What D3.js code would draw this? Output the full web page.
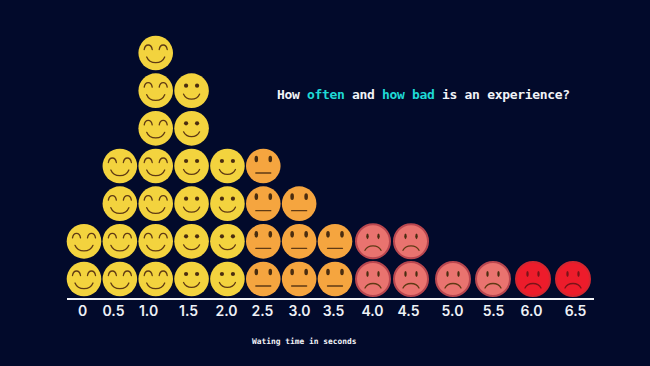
<!DOCTYPE html>
<html>
<head>
  <title>Waiting time</title>
  <script src="https://cdn.jsdelivr.net/npm/d3@7"></script>
  <style>
  html, body { margin: 0; padding: 0; background: #020a2b; overflow: hidden; }
  svg { display: block; }
  .tick text { font-family: "Inter", sans-serif; font-weight: 600; font-size: 14px; fill: #eef1f6; }
  .mono { font-family: "DejaVu Sans Mono", monospace; font-weight: bold; fill: #f1f3f7; }
  </style>
</head>
<body>
  <div id="chart"></div>
  <script>
  var seconds = [0, 0.5, 1, 1.5, 2, 2.5, 3, 3.5, 4, 4.5, 5, 5.5, 6, 6.5]
  var counts = [2, 4, 7, 6, 4, 4, 3, 2, 2, 2, 1, 1, 1, 1]
  var moods = ["joy", "joy", "joy", "smile", "smile", "flat", "flat", "flat", "sad", "sad", "sad", "sad", "bad", "bad"]
  var tickLabels = ["0", "0.5", "1.0", "1.5", "2.0", "2.5", "3.0", "3.5", "4.0", "4.5", "5.0", "5.5", "6.0", "6.5"]
  var titleParts = ["How ", "often", " and ", "how bad", " is an experience?"]

  var width = 650, height = 366

  var fills = { joy: "#f3d33e", smile: "#f3d33e", flat: "#f5a53f", sad: "#e9736f", bad: "#ed1c2b" }
  var rims = { joy: "none", smile: "none", flat: "none", sad: "#b9474f", bad: "#d3262f" }
  var ink = "#5f3a14"

  // columns are not evenly spaced in the original, they get wider after 3.5
  var x = d3.scaleLinear().domain([0, 3.5, 4.5, 5, 6.5]).range([84, 335, 411, 453, 573])
  var y = d3.scaleLinear().domain([0, 6]).range([279, 53])
  // the labels were placed by hand and do not sit under the columns
  var labelX = d3.scaleOrdinal()
    .domain(tickLabels)
    .range([82, 113, 148, 188, 226, 262, 299, 333, 372, 408, 452, 493, 531, 575])

  var svg = d3.select("#chart").append("svg")
    .attr("width", width)
    .attr("height", height)

  // one record per face
  var faces = []
  seconds.forEach(function(s, i){
    d3.range(counts[i]).forEach(function(row){
      faces.push({ s: s, row: row, mood: moods[i] })
    })
  })

  var g = svg.selectAll(".face")
    .data(faces)
    .enter().append("g")
      .attr("class", "face")
      .attr("transform", function(d){ return "translate(" + x(d.s) + "," + y(d.row) + ")" })

  g.append("circle")
    .attr("r", function(d){ return rims[d.mood] == "none" ? 17.3 : 17 })
    .attr("fill", function(d){ return fills[d.mood] })
    .attr("stroke", function(d){ return rims[d.mood] })
    .attr("stroke-width", 2)

  // glyph parts, in face-local units
  function stroke(sel, dFn){
    return sel.append("path")
      .attr("d", dFn)
      .attr("fill", "none")
      .attr("stroke", function(d){ return d.mood == "bad" ? "#7a1418" : ink })
      .attr("stroke-width", 1.3)
      .attr("stroke-linecap", "round")
  }

  function eyes(sel, dx, dy, rx, ry){
    [-1, 1].forEach(function(side){
      sel.append("ellipse")
        .attr("cx", side * dx)
        .attr("cy", dy)
        .attr("rx", rx)
        .attr("ry", ry)
        .attr("fill", function(d){ return d.mood == "bad" ? "#7a1418" : "#4a2d10" })
    })
  }

  var joy = g.filter(function(d){ return d.mood == "joy" })
  stroke(joy, function(){ return "M-11.5,-3.5C-10.5,-9.5 -4.5,-9.5 -3.5,-3.5M3.5,-3.5C4.5,-9.5 10.5,-9.5 11.5,-3.5" })
  stroke(joy, function(){ return "M-9,4C-6,11.5 6,11.5 9,4" })

  var smile = g.filter(function(d){ return d.mood == "smile" })
  eyes(smile, 5.5, -5, 2.1, 2.1)
  stroke(smile, function(){ return "M-8,3.5C-5,10 5,10 8,3.5" })

  var flat = g.filter(function(d){ return d.mood == "flat" })
  eyes(flat, 7, -7, 1.8, 3.3)
  stroke(flat, function(){ return "M-7.5,7H7.5" })

  var sad = g.filter(function(d){ return d.mood == "sad" || d.mood == "bad" })
  eyes(sad, 5.5, -5, 1.2, 2.9)
  stroke(sad, function(){ return "M-8,9C-5,3 5,3 8,9" })

  // baseline
  svg.append("line")
    .attr("x1", x(0) - 17)
    .attr("x2", x(6.5) + 21)
    .attr("y1", y(0) + 20)
    .attr("y2", y(0) + 20)
    .attr("stroke", "#f2f4f8")
    .attr("stroke-width", 2)

  var axis = svg.append("g")
    .attr("transform", "translate(0," + (y(0) + 20) + ")")
    .call(d3.axisBottom(labelX).tickSize(0).tickPadding(7))
  axis.select(".domain").remove()

  svg.append("text")
    .attr("class", "mono")
    .attr("x", 252)
    .attr("y", 344)
    .style("font-size", "7.9px")
    .text("Wating time in seconds")

  svg.append("text")
    .attr("class", "mono")
    .attr("x", 277)
    .attr("y", 99)
    .style("font-size", "13px")
    .attr("textLength", 293)
    .selectAll("tspan")
    .data(titleParts)
    .enter().append("tspan")
      .style("white-space", "pre")
      .attr("fill", function(d, i){ return i % 2 ? "#1fd9d6" : "#f1f3f7" })
      .text(function(d){ return d })
  </script>
</body>
</html>
